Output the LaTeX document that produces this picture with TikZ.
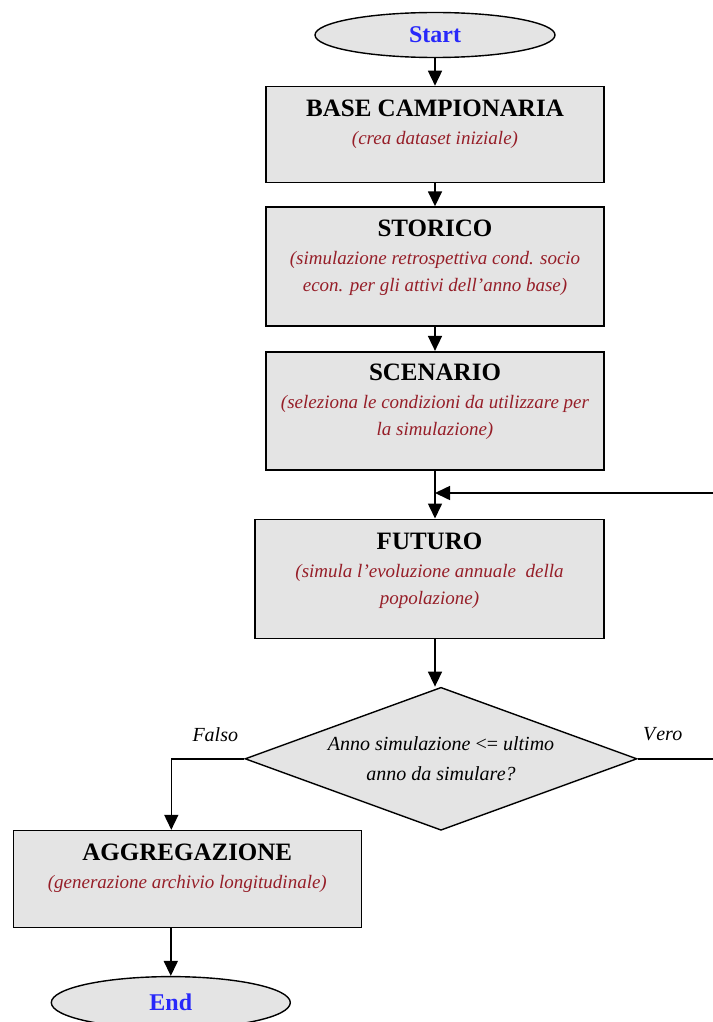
\documentclass[tikz,border=0pt]{standalone}
\usepackage{fontspec}
\setmainfont{Liberation Serif}
\usetikzlibrary{shapes.geometric, arrows.meta, positioning, calc}
\definecolor{boxgray}{RGB}{228,228,228}
\definecolor{notered}{RGB}{150,30,40}
\definecolor{termblue}{RGB}{40,40,250}
\newcommand{\subtxt}[1]{{\fontsize{19}{28}\selectfont\mdseries\itshape\color{notered}#1}}

\begin{document}
\begin{tikzpicture}[x=1pt, y=1pt, >={Triangle[length=15pt,width=14pt]},
    procbox/.style={draw, line width=1.6pt, fill=boxgray, align=center,
      minimum width=338pt, inner sep=0pt, font=\fontsize{25}{29}\selectfont\bfseries},
    termnode/.style={draw, ellipse, line width=1.4pt, fill=boxgray, inner sep=0pt,
      minimum width=240pt, minimum height=45pt, text=termblue,
      font=\fontsize{24}{25}\selectfont\bfseries},
    decnode/.style={draw, diamond, line width=1.4pt, fill=boxgray, inner sep=0pt,
      aspect=2.74, minimum width=392pt, minimum height=143pt, align=center,
      font=\fontsize{20}{30}\selectfont\itshape},
    lbl/.style={font=\fontsize{20}{22}\selectfont\itshape},
    flow/.style={->, line width=1.6pt}]

  \useasboundingbox (0,0) rectangle (712,-1022);

  % colonna principale
  \node[termnode] (start) at (435,-35) {Start};
  \node[procbox, minimum height=96pt, below=27.5pt of start] (base)
    {BASE CAMPIONARIA\\[-1pt]
     \subtxt{(crea dataset iniziale)}\\[-4pt]};
  \node[procbox, minimum height=119pt, below=23pt of base] (storico)
    {STORICO\\[-1pt]
     \subtxt{(simulazione retrospettiva cond. socio}\\[-2pt]
     \subtxt{econ. per gli attivi dell'anno base)}\\[-8pt]};
  \node[procbox, minimum height=118pt, below=24pt of storico] (scenario)
    {SCENARIO\\[-1pt]
     \subtxt{(seleziona le condizioni da utilizzare per}\\[-2pt]
     \subtxt{la simulazione)}\\[-8pt]};
  \node[procbox, minimum width=349pt, minimum height=119pt, below=48pt of scenario,
        xshift=-5.5pt] (futuro)
    {FUTURO\\[-1pt]
     \subtxt{(simula l'evoluzione annuale\ \ della}\\[-2pt]
     \subtxt{popolazione)}\\[-8pt]};
  \node[decnode, below=47.5pt of futuro, xshift=11.5pt] (dec)
    {Anno simulazione \textup{<=} ultimo\\ anno da simulare?};

  % etichette dei rami
  \node[lbl, above=14pt of dec.west, xshift=-29pt] (falso) {Falso};
  \node[lbl, above=14pt of dec.east, xshift=25pt] (vero) {V\kern1pt ero};

  % ramo falso
  \coordinate[left=73pt of dec.west] (fk);
  \node[procbox, minimum width=348pt, minimum height=97pt, below=71pt of fk,
        xshift=16pt] (aggr)
    {AGGREGAZIONE\\[-1pt]
     \subtxt{(generazione archivio longitudinale)}\\[-4pt]};
  \node[termnode, minimum width=239pt, minimum height=52pt, below=47.5pt of aggr,
        xshift=-16.5pt] (endn) {End};

  % ritorno del ciclo
  \coordinate (loopR) at (740,-493);

  \foreach \s/\t in {start/base, base/storico, storico/scenario}
    \draw[flow] (\s) -- (\t);
  \draw[flow] (scenario.south) -- (scenario.south |- futuro.north);
  \draw[flow] (futuro.south -| scenario.south) -- (scenario.south |- dec.north);
  \draw[flow] (dec.east) -- (dec.east -| loopR) -- (loopR) -- (loopR -| scenario.south);
  \draw[flow] (dec.west) -- (fk) -- (fk |- aggr.north);
  \draw[flow] (endn.north |- aggr.south) -- (endn.north);
\end{tikzpicture}
\end{document}
